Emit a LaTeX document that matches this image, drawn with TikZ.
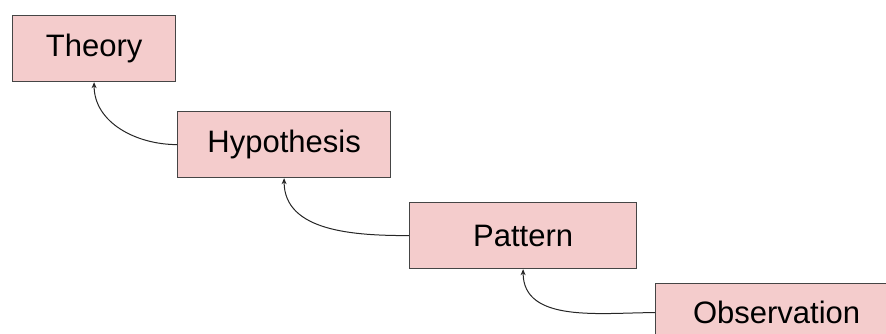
\documentclass[tikz,border=0pt]{standalone}
\usepackage{fontspec}
\setmainfont{Liberation Sans}
\usetikzlibrary{arrows.meta}
\definecolor{boxfill}{HTML}{F4CCCC}
\definecolor{boxline}{HTML}{454545}
\begin{document}
\begin{tikzpicture}[x=1pt,y=-1pt,
  stage/.style={draw=boxline, fill=boxfill, line width=1.2pt, minimum height=66pt,
    inner sep=0pt, font=\fontsize{31}{37}\selectfont, anchor=north west},
  link/.style={-{Stealth[length=6pt,width=5pt]}, line width=1pt, draw=black!85}]
\useasboundingbox (0,0) rectangle (886,334);
\clip (0,0) rectangle (886,334);
% the four stages, stepping down to the right
\node[stage, minimum width=163pt] (theory) at (12,15) {Theory};
\node[stage, minimum width=213pt] (hyp) at (177,111) {Hypothesis};
\node[stage, minimum width=227pt] (pattern) at (409,202) {Pattern};
\node[stage, minimum width=242pt, minimum height=58pt] (obs) at (655,283) {Observation};
% curved links from each stage up to the one above
\draw[link] (hyp.west) to[out=180,in=270] (theory.south);
\draw[link] (pattern.west) to[out=180,in=270] (hyp.south);
\draw[link] (obs.west) to[out=180,in=270] (pattern.south);
\end{tikzpicture}
\end{document}
